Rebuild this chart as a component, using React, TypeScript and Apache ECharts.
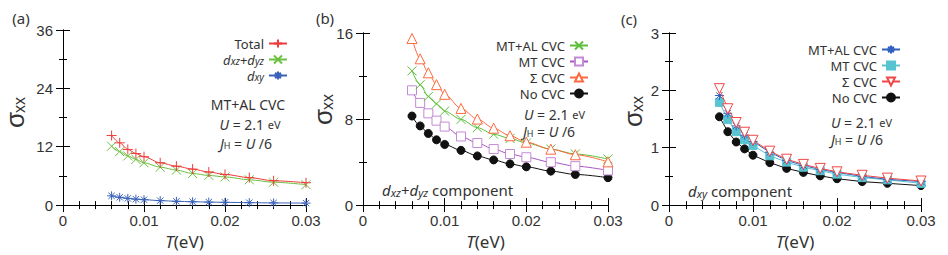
import React, { useEffect, useRef } from 'react';
import * as echarts from 'echarts';

// Temperatures (eV)
const T = [0.006, 0.007, 0.008, 0.009, 0.010, 0.012, 0.014, 0.016, 0.018, 0.020, 0.023, 0.026, 0.030];

// Panel (a)
const aTotal = [14.3, 12.8, 11.45, 10.6, 9.95, 8.7, 8.0, 7.4, 6.8, 6.3, 5.65, 5.0, 4.6];
const aDxzDyz = [12.1, 11.0, 10.1, 9.4, 8.7, 7.8, 7.2, 6.5, 6.1, 5.8, 5.2, 4.7, 4.2];
const aDxy = [1.9, 1.6, 1.38, 1.22, 1.11, 0.92, 0.78, 0.69, 0.62, 0.57, 0.5, 0.45, 0.41];

// Panel (b) dxz+dyz component
const bMTAL = [12.48, 11.19, 10.1, 9.41, 8.74, 7.97, 7.2, 6.59, 6.2, 5.77, 5.21, 4.75, 4.29];
const bMT = [10.67, 9.5, 8.53, 7.85, 7.3, 6.38, 5.77, 5.21, 4.75, 4.45, 3.99, 3.62, 3.22];
const bSigma = [15.49, 13.6, 12.3, 11.2, 10.3, 8.99, 8.0, 7.15, 6.45, 5.85, 5.2, 4.68, 4.02];
const bNo = [8.28, 7.36, 6.66, 6.07, 5.64, 5.09, 4.57, 4.2, 3.83, 3.56, 3.16, 2.85, 2.55];

// Panel (c) dxy component
const cMTAL = [1.91, 1.6, 1.38, 1.22, 1.11, 0.92, 0.78, 0.69, 0.62, 0.57, 0.5, 0.45, 0.41];
const cMT = [1.79, 1.49, 1.28, 1.14, 1.04, 0.86, 0.75, 0.66, 0.6, 0.54, 0.48, 0.44, 0.38];
const cSigma = [2.03, 1.68, 1.44, 1.27, 1.13, 0.94, 0.8, 0.71, 0.64, 0.58, 0.52, 0.47, 0.42];
const cNo = [1.54, 1.28, 1.1, 0.98, 0.87, 0.74, 0.64, 0.57, 0.51, 0.46, 0.41, 0.38, 0.34];

const yRanges = [
  { max: 36, interval: 12 },
  { max: 16, interval: 8 },
  { max: 3, interval: 1 },
];

const LEGEND_LABELS: Record<string, string> = {
  aTotal: 'Total',
  aDxzDyz: '{i|d}{s|xz}+{i|d}{s|yz}',
  aDxy: '{i|d}{s|xy}',
  bMTAL: 'MT+AL CVC',
  bMT: 'MT CVC',
  bSigma: 'Σ CVC',
  bNo: 'No CVC',
  cMTAL: 'MT+AL CVC',
  cMT: 'MT CVC',
  cSigma: 'Σ CVC',
  cNo: 'No CVC',
};

const FT = "'Liberation Sans', Arial, sans-serif";
const FM = "'Noto Sans', sans-serif";
const TC = '#333';

const PLUS = 'path://M0,5L10,5M5,0L5,10';
const CROSS = 'path://M0,0L10,10M10,0L0,10';
const STAR = 'path://M0,5L10,5M5,0L5,10M1.5,1.5L8.5,8.5M8.5,1.5L1.5,8.5';
const DOWNTRI = 'path://M0,0L10,0L5,8.66Z';

const grids = [
  { left: 63, top: 30, width: 243, height: 176 },
  { left: 363, top: 33, width: 245, height: 174 },
  { left: 669, top: 33, width: 252, height: 175 },
];

function pts(arr: number[]) {
  return T.map((t, i) => [t, arr[i]]);
}

function xAxes(g: number) {
  const common = {
    type: 'value',
    gridIndex: g,
    min: 0,
    max: 0.03,
    interval: 0.01,
    axisLine: { show: true, lineStyle: { color: '#000', width: 1 } },
    axisTick: { show: true, inside: true, length: 7, lineStyle: { color: '#000' } },
    minorTick: { show: true, splitNumber: 5, length: 4, lineStyle: { color: '#000' } },
    splitLine: { show: false },
  };
  return [
    {
      ...common,
      position: 'bottom',
      axisLabel: {
        show: true,
        margin: 8,
        fontSize: 15,
        color: TC,
        fontFamily: FT,
        showMinLabel: true,
        showMaxLabel: true,
        formatter: (v: number) => (v === 0 ? '0' : v.toFixed(2)),
      },
      name: '{i|T}(eV)',
      nameLocation: 'middle',
      nameGap: 18,
      nameTextStyle: {
        fontSize: 17,
        fontFamily: FM,
        color: TC,
        rich: { i: { fontSize: 17, fontStyle: 'italic', fontFamily: FM, color: TC } },
      },
    },
    { ...common, position: 'top', axisLabel: { show: false } },
  ];
}

function yAxes(g: number) {
  const r = yRanges[g];
  const common = {
    type: 'value',
    gridIndex: g,
    min: 0,
    max: r.max,
    interval: r.interval,
    axisLine: { show: true, lineStyle: { color: '#000', width: 1 } },
    axisTick: { show: true, inside: true, length: 7, lineStyle: { color: '#000' } },
    minorTick: { show: true, splitNumber: 2, length: 4, lineStyle: { color: '#000' } },
    splitLine: { show: false },
  };
  return [
    {
      ...common,
      position: 'left',
      axisLabel: { show: true, margin: 10, fontSize: 15, color: TC, fontFamily: FT },
    },
    { ...common, position: 'right', axisLabel: { show: false } },
  ];
}

function line(
  name: string,
  g: number,
  data: number[],
  color: string,
  symbol: string,
  size: number,
  opts: any = {}
) {
  return {
    type: 'line',
    name,
    xAxisIndex: g * 2,
    yAxisIndex: g * 2,
    data: pts(data),
    symbol,
    symbolSize: size,
    showSymbol: true,
    smooth: opts.smooth ?? 0.3,
    smoothMonotone: 'x',
    lineStyle: { color: opts.lineColor ?? color, width: 1 },
    itemStyle: {
      color: opts.fill ?? color,
      borderColor: color,
      borderWidth: 1,
    },
    z: opts.z ?? 2,
    emphasis: { disabled: true },
  };
}

const subRich = (fs: number) => ({
  i: { fontStyle: 'italic', fontSize: fs, fontFamily: FM, color: TC, lineHeight: fs },
  s: {
    fontStyle: 'italic',
    fontSize: Math.round(fs * 0.76),
    fontFamily: FM,
    color: TC,
    lineHeight: Math.round(fs * 0.5),
    verticalAlign: 'bottom',
  },
  h: {
    fontSize: Math.round(fs * 0.62),
    fontFamily: FM,
    color: TC,
    lineHeight: Math.round(fs * 0.4),
    verticalAlign: 'bottom',
  },
  n: { fontSize: fs, fontFamily: FM, color: TC, lineHeight: fs },
  sm: { fontSize: Math.round(fs * 0.82), fontFamily: FM, color: TC, lineHeight: fs },
});

function legend(names: string[], right: number, top: number, fs: number, gap: number) {
  return {
    data: names,
    orient: 'vertical',
    right,
    top,
    align: 'right',
    itemWidth: 18,
    itemHeight: 10,
    itemGap: gap,
    padding: 0,
    selectedMode: false,
    formatter: (n: string) => LEGEND_LABELS[n],
    textStyle: { fontSize: fs, fontFamily: FM, color: TC, lineHeight: fs, rich: subRich(fs) },
  };
}

function txt(x: number, y: number, text: string, fs: number, align = 'left') {
  return {
    type: 'text',
    x,
    y,
    style: {
      text,
      fontSize: fs,
      fontFamily: FM,
      fill: TC,
      align,
      verticalAlign: 'middle',
      lineHeight: fs,
      rich: subRich(fs),
    },
  };
}

function sigma(cx: number, cy: number) {
  return {
    type: 'group',
    x: cx,
    y: cy,
    rotation: Math.PI / 2,
    children: [
      {
        type: 'text',
        x: 0,
        y: 0,
        style: { text: 'σ', fontSize: 26, fontFamily: FT, fill: TC, align: 'center', verticalAlign: 'middle' },
      },
      {
        type: 'text',
        x: 7,
        y: 4,
        style: { text: 'xx', fontSize: 16, fontFamily: FT, fill: TC, align: 'left', verticalAlign: 'middle' },
      },
    ],
  };
}

export default function App() {
  const ref = useRef<HTMLDivElement>(null);
  useEffect(() => {
    if (!ref.current) return;
    const chart = echarts.init(ref.current, null, { renderer: 'svg' });
    const option: any = {
      animation: false,
      backgroundColor: '#fff',
      grid: grids,
      xAxis: [...xAxes(0), ...xAxes(1), ...xAxes(2)],
      yAxis: [...yAxes(0), ...yAxes(1), ...yAxes(2)],
      legend: [
        legend(['aTotal', 'aDxzDyz', 'aDxy'], 948 - 288, 37, 13, 3),
        legend(['bMTAL', 'bMT', 'bSigma', 'bNo'], 948 - 589, 39, 13, 3),
        legend(['cMTAL', 'cMT', 'cSigma', 'cNo'], 948 - 901, 43, 13, 3),
      ],
      series: [
        line('aDxzDyz', 0, aDxzDyz, '#6cc040', CROSS, 9),
        line('aDxy', 0, aDxy, '#3a62b8', STAR, 9),
        line('aTotal', 0, aTotal, '#f03c3c', PLUS, 10, { z: 3 }),

        line('bNo', 1, bNo, '#111111', 'circle', 8),
        line('bMT', 1, bMT, '#c48ad6', 'rect', 9, { fill: '#ffffff', lineColor: '#a855c0' }),
        line('bMTAL', 1, bMTAL, '#5cbf3a', CROSS, 9),
        line('bSigma', 1, bSigma, '#ff6a40', 'triangle', 10, { fill: '#ffffff', z: 3 }),

        line('cNo', 2, cNo, '#111111', 'circle', 8, { smooth: false }),
        line('cMT', 2, cMT, '#58c4d2', 'rect', 8, { smooth: false }),
        line('cMTAL', 2, cMTAL, '#3060c0', STAR, 9, { smooth: false }),
        line('cSigma', 2, cSigma, '#f04848', DOWNTRI, 10, { smooth: false, fill: '#ffffff', z: 3 }),
      ],
      graphic: [
        txt(21, 18, '(a)', 15, 'center'),
        txt(325, 18, '(b)', 15, 'center'),
        txt(629, 19, '(c)', 15, 'center'),
        sigma(15, 120),
        sigma(323, 117),
        sigma(633, 119),
        txt(248, 104, 'MT+AL CVC', 14, 'center'),
        txt(250, 124, '{i|U} = 2.1 {sm|eV}', 14, 'center'),
        txt(246, 143, '{i|J}{h|H} = {i|U} /6', 14, 'center'),
        txt(524, 114, '{i|U} = 2.1 {sm|eV}', 14, 'left'),
        txt(523, 131, '{i|J}{h|H} = {i|U} /6', 14, 'left'),
        txt(831, 122, '{i|U} = 2.1 {sm|eV}', 14, 'left'),
        txt(831, 139, '{i|J}{h|H} = {i|U} /6', 14, 'left'),
        txt(382, 190, '{i|d}{s|xz}+{i|d}{s|yz} component', 15, 'left'),
        txt(688, 191, '{i|d}{s|xy} component', 15, 'left'),
      ],
    };
    chart.setOption(option);
    return () => chart.dispose();
  }, []);
  return (
    <div
      ref={ref}
      style={{ position: 'absolute', left: 0, top: 0, width: 948, height: 255, background: '#fff' }}
    />
  );
}
